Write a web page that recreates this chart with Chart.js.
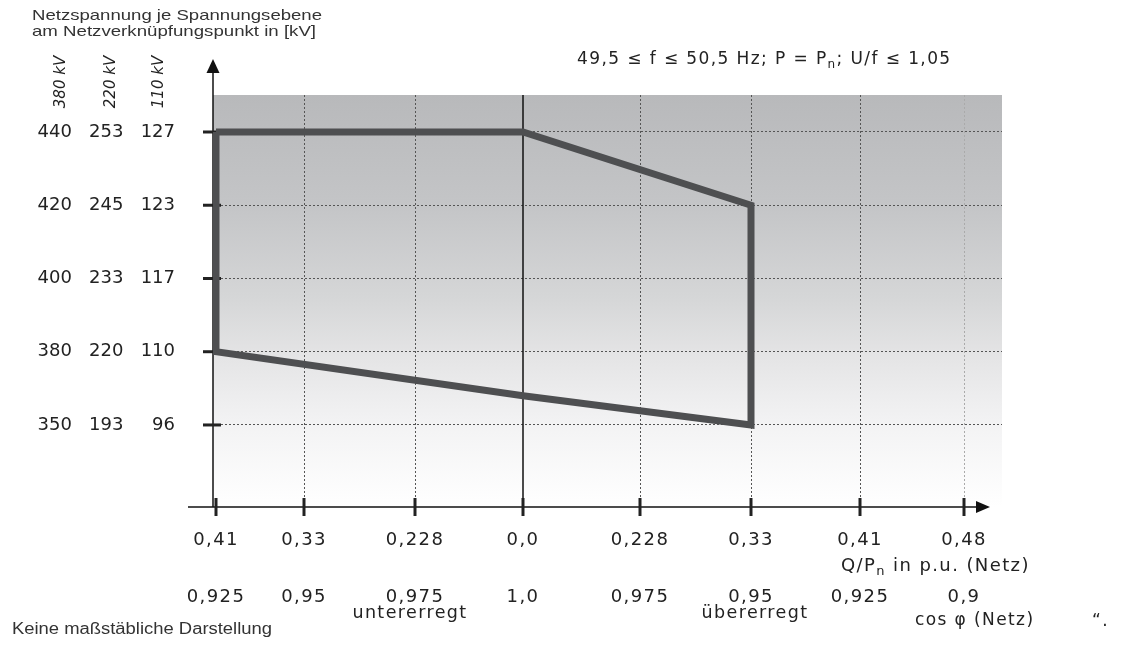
<!DOCTYPE html>
<html lang="de">
<head>
<meta charset="utf-8">
<title>Netzspannung je Spannungsebene</title>
<script src="https://cdn.jsdelivr.net/npm/chart.js@4/dist/chart.umd.min.js"></script>
<style>
  html, body { margin: 0; padding: 0; background: #fff; }
</style>
</head>
<body>
<canvas id="chart" width="1122" height="648"></canvas>
<script>
// Q/Pn ticks: left half untererregt, right half übererregt
const qValues = [-0.41, -0.33, -0.228, 0, 0.228, 0.33, 0.41, 0.48];
const qLabels = ['0,41', '0,33', '0,228', '0,0', '0,228', '0,33', '0,41', '0,48'];
const cosPhiLabels = ['0,925', '0,95', '0,975', '1,0', '0,975', '0,95', '0,925', '0,9'];
// not drawn to scale: where each tick sits along the axis
const qPositions = [0.03, 0.91, 2.02, 3.10, 4.27, 5.38, 6.47, 7.51];

// voltage per grid level, one list per column
const u380 = [350, 380, 400, 420, 440];
const u220 = [193, 220, 233, 245, 253];
const u110 = [96, 110, 117, 123, 127];

// boundary of the operating range (signed Q/Pn, voltage in the 380 kV grid)
const boundaryQ = [-0.41, 0, 0.33, 0.33, 0, -0.41, -0.41];
const boundaryU = [440, 440, 420, 350, 362, 380, 440];

const FONT = 'DejaVu Sans, Verdana, sans-serif';
const SANS = 'Liberation Sans, Arial, sans-serif';
const INK = '#222';
const SPACING = '1.4px';

function interp(v, xs, ys) {
  for (let i = 0; i < xs.length - 1; i++) {
    if (v >= xs[i] && v <= xs[i + 1]) {
      return ys[i] + (v - xs[i]) / (xs[i + 1] - xs[i]) * (ys[i + 1] - ys[i]);
    }
  }
  return v < xs[0] ? ys[0] : ys[ys.length - 1];
}

const levels = u380.map((_, i) => i);
const boundary = boundaryQ.map((q, i) => ({
  x: interp(q, qValues, qPositions),
  y: interp(boundaryU[i], u380, levels)
}));

const pad3 = n => String(n).padStart(3, '\u2007');

// text with optional subscript pieces
function richText(ctx, parts, x, y, size) {
  ctx.textAlign = 'left';
  ctx.textBaseline = 'middle';
  parts.forEach(p => {
    if (p.sub) {
      ctx.font = Math.round(size * 0.7) + 'px ' + FONT;
      ctx.fillText(p.t, x, y + size * 0.3);
    } else {
      ctx.font = size + 'px ' + FONT;
      ctx.fillText(p.t, x, y);
    }
    x += ctx.measureText(p.t).width;
  });
}

// stretch a line of text to the width it has in the original
function fitText(ctx, text, x, y, width) {
  const w = ctx.measureText(text).width;
  ctx.save();
  ctx.translate(x, y);
  ctx.scale(width / w, 1);
  ctx.fillText(text, 0, 0);
  ctx.restore();
}

const schematic = {
  id: 'schematic',
  beforeDraw(chart) {
    const { ctx, chartArea: a } = chart;
    const g = ctx.createLinearGradient(0, a.top, 0, a.bottom);
    g.addColorStop(0, '#b8b9bb');
    g.addColorStop(0.27, '#c4c5c7');
    g.addColorStop(0.5, '#d6d7d8');
    g.addColorStop(0.63, '#e4e4e5');
    g.addColorStop(0.8, '#f3f3f4');
    g.addColorStop(1, '#ffffff');
    ctx.fillStyle = g;
    ctx.fillRect(a.left, a.top, a.right - a.left, a.bottom - a.top);
    // the x labels of the original are spaced out a little
    ctx.letterSpacing = SPACING;
  },
  beforeDatasetsDraw(chart) {
    const { ctx, chartArea: a, scales: { x, y } } = chart;
    ctx.save();
    ctx.strokeStyle = '#111';
    ctx.fillStyle = '#111';
    ctx.lineWidth = 1.5;

    // Q = 0 line
    const x0 = x.getPixelForValue(qPositions[3]);
    ctx.beginPath();
    ctx.moveTo(x0, a.top);
    ctx.lineTo(x0, a.bottom);
    ctx.stroke();

    // y axis with arrow
    ctx.beginPath();
    ctx.moveTo(a.left, 72);
    ctx.lineTo(a.left, a.bottom);
    ctx.stroke();
    ctx.beginPath();
    ctx.moveTo(a.left, 59);
    ctx.lineTo(a.left - 6.5, 73);
    ctx.lineTo(a.left + 6.5, 73);
    ctx.closePath();
    ctx.fill();

    // x axis with arrow
    ctx.beginPath();
    ctx.moveTo(188, a.bottom);
    ctx.lineTo(977, a.bottom);
    ctx.stroke();
    ctx.beginPath();
    ctx.moveTo(990, a.bottom);
    ctx.lineTo(976, a.bottom - 6);
    ctx.lineTo(976, a.bottom + 6);
    ctx.closePath();
    ctx.fill();

    // tick marks
    ctx.lineWidth = 3;
    ctx.strokeStyle = INK;
    x.ticks.forEach(t => {
      const px = x.getPixelForValue(t.value);
      ctx.beginPath();
      ctx.moveTo(px, a.bottom - 9);
      ctx.lineTo(px, a.bottom + 9);
      ctx.stroke();
    });
    y.ticks.forEach(t => {
      const py = y.getPixelForValue(t.value);
      ctx.beginPath();
      ctx.moveTo(a.left - 10, py);
      ctx.lineTo(a.left + 8, py);
      ctx.stroke();
    });
    ctx.restore();
  },
  afterDatasetsDraw(chart) {
    // y labels (ticks.z = 1, drawn after this) are not spaced out
    chart.ctx.letterSpacing = '0px';
  },
  afterDraw(chart) {
    const { ctx } = chart;
    ctx.save();
    ctx.letterSpacing = '0px';
    ctx.fillStyle = '#333';
    ctx.textBaseline = 'middle';
    ctx.textAlign = 'left';
    ctx.font = '15px ' + SANS;
    fitText(ctx, 'Netzspannung je Spannungsebene', 32, 16, 290);
    fitText(ctx, 'am Netzverknüpfungspunkt in [kV]', 32, 32, 284);
    ctx.font = '16px ' + SANS;
    fitText(ctx, 'Keine maßstäbliche Darstellung', 12, 630, 260);

    ctx.fillStyle = INK;
    // grid level captions
    ctx.font = 'italic 15px ' + FONT;
    ctx.textAlign = 'center';
    [['380 kV', 61], ['220 kV', 111], ['110 kV', 159]].forEach(([t, cx]) => {
      ctx.save();
      ctx.translate(cx, 82);
      ctx.rotate(-Math.PI / 2);
      ctx.fillText(t, 0, 0);
      ctx.restore();
    });

    ctx.letterSpacing = SPACING;
    richText(ctx, [{ t: '49,5 \u2264 f \u2264 50,5 Hz; P = P' }, { t: 'n', sub: true }, { t: '; U/f \u2264 1,05' }], 577, 60, 17);
    richText(ctx, [{ t: 'Q/P' }, { t: 'n', sub: true }, { t: ' in p.u. (Netz)' }], 841, 566, 18);

    ctx.font = '17.5px ' + FONT;
    ctx.textAlign = 'center';
    ctx.fillText('untererregt', 410, 613);
    ctx.fillText('übererregt', 755, 613);
    ctx.font = '17px ' + FONT;
    ctx.textAlign = 'left';
    ctx.fillText('cos \u03c6 (Netz)', 915, 621);
    ctx.fillText('\u201c.', 1092, 622);
    ctx.restore();
  }
};

new Chart(document.getElementById('chart'), {
  type: 'scatter',
  data: {
    datasets: [{
      data: boundary,
      showLine: true,
      borderColor: '#4e4f51',
      borderWidth: 7,
      borderJoinStyle: 'miter',
      pointRadius: 0,
      fill: false
    }]
  },
  options: {
    responsive: false,
    animation: false,
    layout: { padding: { top: 95, right: 120, left: 0, bottom: 0 } },
    plugins: { legend: { display: false }, tooltip: { enabled: false } },
    scales: {
      x: {
        type: 'linear',
        min: 0,
        max: 7.89,
        afterBuildTicks: axis => { axis.ticks = qPositions.map(v => ({ value: v })); },
        afterFit: axis => { axis.height = 141; },
        grid: {
          drawTicks: false,
          lineWidth: 1,
          color: ctx => ctx.index === 0 || ctx.index === 3 ? 'rgba(0,0,0,0)' : (ctx.index === 7 ? '#aaa' : '#555')
        },
        border: { display: false, dash: [2, 2] },
        ticks: {
          padding: 5,
          color: INK,
          maxRotation: 0,
          autoSkip: false,
          font: { family: FONT, size: 18, lineHeight: 3.17 },
          callback: (v, i) => [qLabels[i], cosPhiLabels[i]]
        }
      },
      y: {
        type: 'linear',
        min: -1.12,
        max: 4.505,
        afterBuildTicks: axis => { axis.ticks = levels.map(v => ({ value: v })); },
        afterFit: axis => { axis.width = 213; },
        grid: { drawTicks: false, lineWidth: 1, color: '#555' },
        border: { display: false, dash: [2, 2] },
        ticks: {
          z: 1,
          padding: 38,
          color: INK,
          font: { family: FONT, size: 18 },
          callback: (v, i) => pad3(u380[i]) + '   ' + pad3(u220[i]) + '   ' + pad3(u110[i])
        }
      }
    }
  },
  plugins: [schematic]
});
</script>
</body>
</html>
